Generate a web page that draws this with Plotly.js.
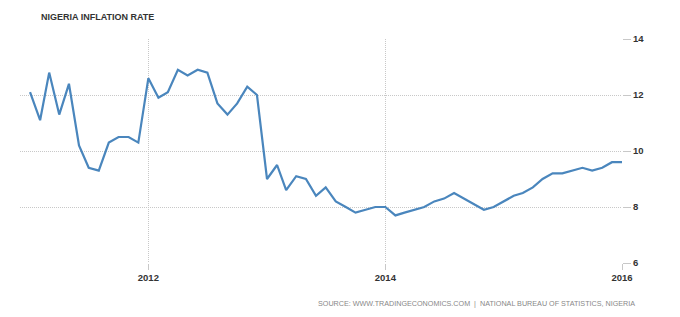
<!DOCTYPE html>
<html>
<head>
<meta charset="utf-8">
<script src="https://cdn.plot.ly/plotly-3.0.1.min.js"></script>
<style>html,body{margin:0;padding:0;background:#fff;}#chart{width:680px;height:317px;}</style>
</head>
<body>
<div id="chart"></div>
<script>
const months = [
  "2011-01-01","2011-02-01","2011-03-01","2011-04-01","2011-05-01","2011-06-01","2011-07-01","2011-08-01","2011-09-01","2011-10-01","2011-11-01","2011-12-01",
  "2012-01-01","2012-02-01","2012-03-01","2012-04-01","2012-05-01","2012-06-01","2012-07-01","2012-08-01","2012-09-01","2012-10-01","2012-11-01","2012-12-01",
  "2013-01-01","2013-02-01","2013-03-01","2013-04-01","2013-05-01","2013-06-01","2013-07-01","2013-08-01","2013-09-01","2013-10-01","2013-11-01","2013-12-01",
  "2014-01-01","2014-02-01","2014-03-01","2014-04-01","2014-05-01","2014-06-01","2014-07-01","2014-08-01","2014-09-01","2014-10-01","2014-11-01","2014-12-01",
  "2015-01-01","2015-02-01","2015-03-01","2015-04-01","2015-05-01","2015-06-01","2015-07-01","2015-08-01","2015-09-01","2015-10-01","2015-11-01","2015-12-01",
  "2016-01-01"
];
const inflation = [
  12.1, 11.1, 12.8, 11.3, 12.4, 10.2, 9.4, 9.3, 10.3, 10.5, 10.5, 10.3,
  12.6, 11.9, 12.1, 12.9, 12.7, 12.9, 12.8, 11.7, 11.3, 11.7, 12.3, 12.0,
  9.0, 9.5, 8.6, 9.1, 9.0, 8.4, 8.7, 8.2, 8.0, 7.8, 7.9, 8.0,
  8.0, 7.7, 7.8, 7.9, 8.0, 8.2, 8.3, 8.5, 8.3, 8.1, 7.9, 8.0,
  8.2, 8.4, 8.5, 8.7, 9.0, 9.2, 9.2, 9.3, 9.4, 9.3, 9.4, 9.6,
  9.6
];
const yTicks = [6, 8, 10, 12, 14];
const titleText = "NIGERIA INFLATION RATE";
const sourceText = "SOURCE: WWW.TRADINGECONOMICS.COM  |  NATIONAL BUREAU OF STATISTICS, NIGERIA";

const trace = {
  x: months, y: inflation, type: "scatter", mode: "lines",
  line: {color: "#4a86bd", width: 2.2},
  hoverinfo: "skip"
};

const layout = {
  width: 680, height: 317,
  margin: {l: 20, r: 58, t: 39, b: 54},
  paper_bgcolor: "#fff", plot_bgcolor: "#fff",
  showlegend: false,
  font: {family: "Liberation Sans, Arial, sans-serif", color: "#333"},
  title: {
    text: "<b>" + titleText + "</b>", xref: "container", yref: "container",
    x: 41/680, xanchor: "left", y: 1 - 17/317, yanchor: "middle",
    font: {size: 9, color: "#333", family: "Liberation Sans, Arial, sans-serif"}
  },
  xaxis: {
    type: "date",
    range: ["2010-12-01", "2016-01-01"],
    tick0: "2012-01-01", dtick: "M24", tickformat: "<b>%Y</b>",
    showgrid: true, gridcolor: "#c8c8c8", griddash: "1px,1px", gridwidth: 1,
    ticks: "outside", ticklen: 6, tickcolor: "#c8c8c8",
    showline: false, zeroline: false,
    tickfont: {size: 9.5, color: "#333"}
  },
  yaxis: {
    side: "right", range: [6, 14], tickvals: yTicks,
    ticktext: yTicks.map(v => "<b>" + v + "</b>"),
    showgrid: true, gridcolor: "#c8c8c8", griddash: "1px,1px", gridwidth: 1,
    ticks: "outside", ticklen: 8, tickcolor: "#c8c8c8",
    showline: false, zeroline: false,
    tickfont: {size: 9.5, color: "#333"}
  },
  annotations: [{
    text: sourceText, xref: "paper", yref: "paper",
    x: 1, xanchor: "right", xshift: 15,
    y: 0, yanchor: "middle", yshift: -40,
    showarrow: false,
    font: {size: 7.2, color: "#888", family: "Liberation Sans, Arial, sans-serif"}
  }]
};

Plotly.newPlot("chart", [trace], layout, {displayModeBar: false, staticPlot: true});
</script>
</body>
</html>
